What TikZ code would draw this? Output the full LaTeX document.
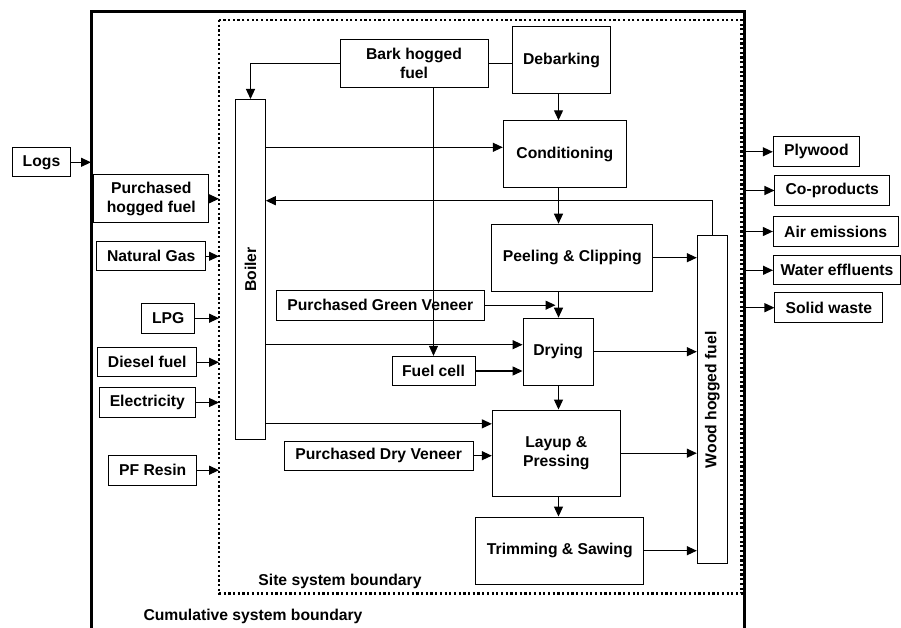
\documentclass[tikz,border=0pt]{standalone}
\usepackage{fontspec}
\setmainfont{Liberation Sans}
\usetikzlibrary{arrows.meta}

\begin{document}
\begin{tikzpicture}[x=1pt,y=-1pt,>={Triangle[length=10pt,width=9pt]},
    font=\fontsize{15.7}{19}\selectfont\bfseries,
    box/.style={draw,line width=1pt,inner sep=1pt,align=center},
    flow/.style={->,line width=1.2pt},
    boundary/.style={line width=3pt}]
  \useasboundingbox (0,0) rectangle (901,628);
  % system boundaries
  \draw[boundary] (91,628) -- (91,12) -- (744,12) -- (744,628);
  \draw[line width=2.2pt,dash pattern=on 2.2pt off 2.5pt] (219,20) rectangle (741.5,593.5);
  \coordinate (cum_l) at (91,0);
  \coordinate (cum_r) at (744,0);
  \coordinate (site_l) at (219,0);
  \coordinate (spine) at (558.5,0);
  \node (site) at (340,581) {Site system boundary};
  \node (cum) at (253,616) {Cumulative system boundary};

  % inputs
  \node[box,minimum width=58pt,minimum height=29pt] (logs) at (41.5,162.3) {Logs};
  \node[box,minimum width=115pt,minimum height=48pt] (phf) at (151.3,198.8) {Purchased\\hogged fuel};
  \node[box,minimum width=109pt,minimum height=29pt] (gas) at (151.2,256.3) {Natural Gas};
  \node[box,minimum width=53pt,minimum height=30pt] (lpg) at (168.2,318.2) {LPG};
  \node[box,minimum width=99pt,minimum height=29pt] (diesel) at (147.2,362.3) {Diesel fuel};
  \node[box,minimum width=96pt,minimum height=30pt] (elec) at (147.3,402.5) {Electricity};
  \node[box,minimum width=88pt,minimum height=30pt] (resin) at (152.7,470.2) {PF Resin};

  % process
  \node[box,minimum width=29.6pt,minimum height=340pt] (boiler) at (250.5,269.5) {\rotatebox{90}{Boiler}};
  \node[box,minimum width=148pt,minimum height=48pt] (bark) at (414,63.5) {Bark hogged\\fuel};
  \node[box,minimum width=97.6pt,minimum height=67pt] (debark) at (561.5,60.3) {Debarking};
  \node[box,minimum width=123pt,minimum height=67pt] (cond) at (564.8,154.3) {Conditioning};
  \node[box,minimum width=160.7pt,minimum height=67pt] (peel) at (572.3,257.7) {Peeling \& Clipping};
  \node[box,minimum width=208pt,minimum height=29.7pt] (green) at (380.3,305.2) {Purchased Green Veneer};
  \node[box,minimum width=70.3pt,minimum height=67pt] (drying) at (558.2,351.7) {Drying};
  \node[box,minimum width=83pt,minimum height=29.4pt] (fuelcell) at (433.5,371) {Fuel cell};
  \node[box,minimum width=128pt,minimum height=86.3pt] (layup) at (556.3,453.2) {Layup \&\\Pressing};
  \node[box,minimum width=188.7pt,minimum height=29.3pt] (dry) at (378.7,455.7) {Purchased Dry Veneer};
  \node[box,minimum width=168.3pt,minimum height=67.3pt] (trim) at (559.8,550.7) {Trimming \& Sawing};
  \node[box,minimum width=30pt,minimum height=328.3pt] (wood) at (712.3,399.8) {\rotatebox{90}{Wood hogged fuel}};

  % outputs
  \node[box,minimum width=86pt,minimum height=29.7pt] (plywood) at (816.3,151.8) {Plywood};
  \node[box,minimum width=114.7pt,minimum height=29.6pt] (coprod) at (832.3,190.5) {Co-products};
  \node[box,minimum width=124.7pt,minimum height=29.6pt] (air) at (835.7,231.5) {Air emissions};
  \node[box,minimum width=127pt,minimum height=29.3pt] (water) at (837,270.3) {Water effluents};
  \node[box,minimum width=107.7pt,minimum height=30pt] (solid) at (828.8,307.7) {Solid waste};

  % helper points
  \coordinate (c_in) at ([yshift=7pt]cond.west);
  \coordinate (d_in) at ([yshift=7pt]drying.west);
  \coordinate (l_in) at ([yshift=-14.3pt]layup.north west);
  \coordinate (w_ret) at (boiler.east |- 0,200.7);

  % flows into the boundaries
  \draw[flow] (logs.east) -- (logs.east -| cum_l);
  \foreach \src in {phf,gas,lpg,diesel,elec,resin}
    \draw[flow] (\src.east) -- (\src.east -| site_l);
  \foreach \dst in {plywood,coprod,air,water,solid}
    \draw[flow] (\dst.west -| cum_r) -- (\dst.west);

  % flows inside the site
  \draw[flow] (bark.west) -| (boiler.north);
  \draw[line width=1.2pt] (bark.east) -- (bark.east -| debark.west);
  \draw[->,line width=0.6pt] (fuelcell.north |- bark.south) -- (fuelcell.north);
  \draw[flow] (debark.south -| spine) -- (cond.north -| spine);
  \draw[flow] (boiler.east |- c_in) -- (c_in);
  \draw[flow] (cond.south -| spine) -- (peel.north -| spine);
  \draw[flow] (wood.north) |- (w_ret);
  \draw[flow] (peel.east) -- (peel.east -| wood.west);
  \draw[flow,shorten >=3pt] (green.east) -- (green.east -| spine);
  \draw[flow] (peel.south -| spine) -- (drying.north -| spine);
  \draw[flow] (boiler.east |- d_in) -- (d_in);
  \draw[flow] (fuelcell.east) -- (fuelcell.east -| drying.west);
  \draw[flow] (drying.east) -- (drying.east -| wood.west);
  \draw[flow] (drying.south -| spine) -- (layup.north -| spine);
  \draw[flow] (boiler.east |- l_in) -- (l_in);
  \draw[flow] (dry.east) -- (dry.east -| layup.west);
  \draw[flow] (layup.east) -- (layup.east -| wood.west);
  \draw[flow] (layup.south -| spine) -- (trim.north -| spine);
  \draw[flow] (trim.east) -- (trim.east -| wood.west);
\end{tikzpicture}
\end{document}
